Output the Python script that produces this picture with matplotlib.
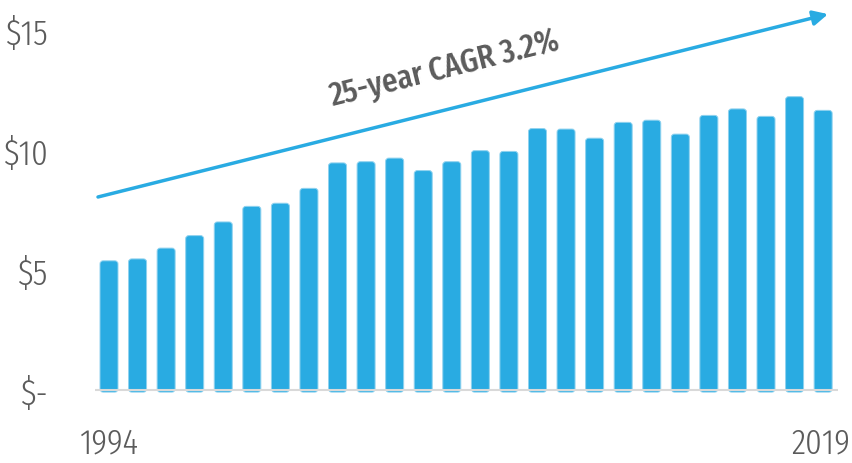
import matplotlib
matplotlib.use("Agg")
import matplotlib.pyplot as plt
import matplotlib.transforms as mtransforms
from matplotlib.patches import FancyBboxPatch

# yearly values, 1994-2019
years = list(range(1994, 2020))
values = [5.37, 5.45, 5.90, 6.42, 6.99, 7.64, 7.77, 8.39, 9.45, 9.50,
          9.65, 9.13, 9.50, 9.96, 9.93, 10.88, 10.86, 10.48, 11.14, 11.23,
          10.65, 11.43, 11.70, 11.39, 12.21, 11.64]
ytick_vals = [0, 5, 10, 15]
ytick_labels = ['$-', '$5', '$10', '$15']
cagr_label = '25-year CAGR 3.2%'

blue = '#29abe2'
grey = '#5b5b5b'
font = ['Fira Sans Extra Condensed', 'PT Sans Narrow', 'DejaVu Sans']

fig = plt.figure(figsize=(8.52, 4.64), dpi=100)
ax = fig.add_axes([95 / 852, 1 - 402.7 / 464, 743 / 852, 402.7 / 464])

x = list(range(len(years)))
bars = ax.bar(x, [v + 0.1 for v in values], bottom=-0.1, width=0.63,
              color=blue)

# swap the plain rectangles for slightly rounded ones
for b in bars:
    b.set_visible(False)
    fb = FancyBboxPatch((b.get_x(), b.get_y()), b.get_width(), b.get_height(),
                        boxstyle='round,pad=0,rounding_size=0.11',
                        mutation_aspect=1.15,
                        facecolor=blue, edgecolor='#8fd2ef', lw=0.7, zorder=2)
    ax.add_patch(fb)

ax.axhline(0, color='#d9d9d9', lw=1.5, zorder=3)

ax.set_xlim(-0.49, 25.52)
ax.set_ylim(-0.5, 16.28)
for s in ax.spines.values():
    s.set_visible(False)

ax.set_yticks(ytick_vals)
ax.set_yticklabels(ytick_labels)
ax.set_xticks([0, len(years) - 1])
ax.set_xticklabels([str(years[0]), str(years[-1])])
ax.tick_params(axis='y', length=0, pad=34, labelsize=26, labelcolor=grey)
ax.tick_params(axis='x', length=0, pad=17, labelsize=26, labelcolor=grey)
for lab in ax.get_xticklabels() + ax.get_yticklabels():
    lab.set_family(font)
    lab.set_fontweight(300)

# keep the last year inside the figure
last = ax.get_xticklabels()[-1]
last.set_horizontalalignment('right')
last.set_transform(last.get_transform() +
                   mtransforms.ScaledTranslation(27 / 100, 0, fig.dpi_scale_trans))

# growth arrow with the CAGR note
ax.annotate('', xy=(25.17, 15.65), xytext=(-0.385, 8.03),
            arrowprops=dict(arrowstyle='-|>', color=blue, lw=2.5,
                            mutation_scale=22, shrinkA=0, shrinkB=0),
            annotation_clip=False)
ax.text(11.76, 13.36, cagr_label, rotation=14, rotation_mode='anchor',
        ha='center', va='center', fontsize=24, fontweight=500,
        color=grey, family=font)

fig.savefig('out.png', dpi=100)
